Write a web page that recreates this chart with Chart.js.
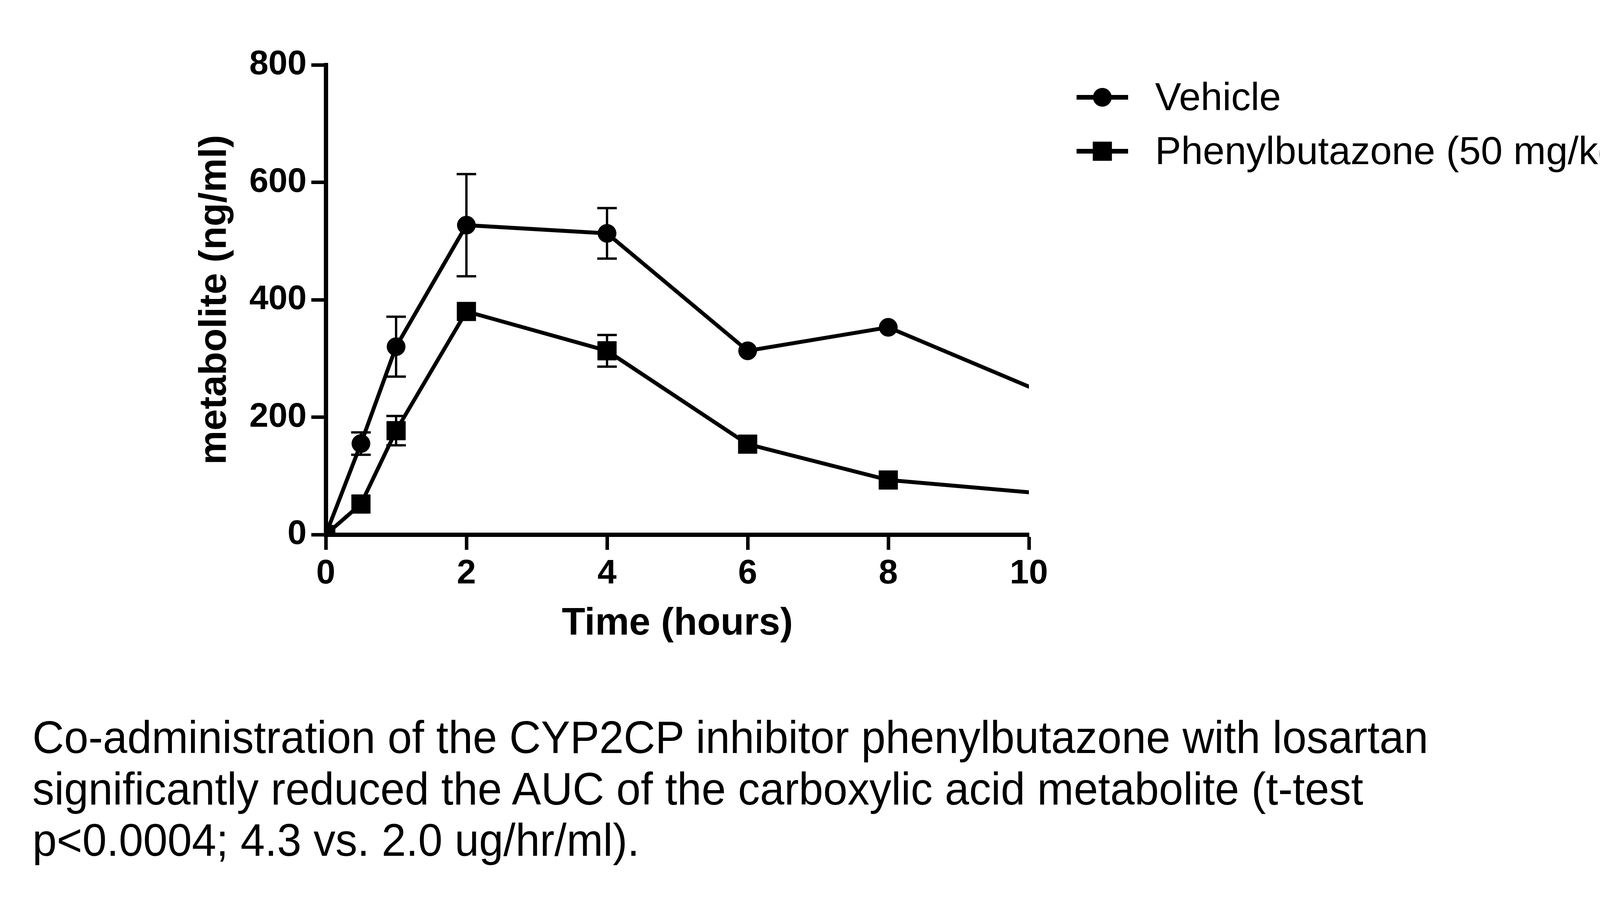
<!DOCTYPE html>
<html>
<head>
<meta charset="utf-8">
<script src="https://cdn.jsdelivr.net/npm/chart.js@4.4.1/dist/chart.umd.min.js"></script>
<style>
  html, body { margin: 0; padding: 0; background: #fff; }
  #wrap { position: relative; width: 4133px; height: 2298px; overflow: hidden; }
  #chart { position: absolute; left: 0; top: 0; }
  #caption {
    position: absolute; left: 83px; top: 1822px;
    font-family: 'Liberation Sans', Arial, sans-serif;
    font-size: 116px; line-height: 131.5px; color: #000;
    white-space: nowrap;
    transform: scaleX(0.966); transform-origin: 0 0;
  }
</style>
</head>
<body>
<div id="wrap">
  <canvas id="chart" width="4133" height="2298"></canvas>
  <div id="caption">Co-administration of the CYP2CP inhibitor phenylbutazone with losartan<br>significantly reduced the AUC of the carboxylic acid metabolite (t-test<br>p&lt;0.0004; 4.3 vs. 2.0 ug/hr/ml).</div>
</div>
<script>
// data (time in hours, metabolite in ng/ml, mean +/- error)
const times = [0, 0.5, 1, 2, 4, 6, 8, 10];
const vehicle = [0, 155, 320, 527, 513, 313, 353, 252];
const vehicleErr = [0, 19, 51, 87, 43, 10, 10, 0];
const phenyl = [0, 52, 177, 380, 313, 154, 93, 72];
const phenylErr = [0, 10, 25, 12, 27, 10, 8, 0];
const seriesNames = ['Vehicle', 'Phenylbutazone (50 mg/kg)'];
const xTicks = [0, 2, 4, 6, 8, 10];
const yTicks = [0, 200, 400, 600, 800];

const FONT = "'Liberation Sans', Arial, sans-serif";
const MARK = 24.5; // half size of the symbols, px

function pts(ys) {
    return times.map((t, i) => ({ x: t, y: ys[i] }));
}
// last point is only where the line is cut by the axis end: no marker
function radii(r) {
    return times.map((t, i) => (i === times.length - 1 ? 0 : r));
}

const errors = [vehicleErr, phenylErr];

// error bars, skipped when shorter than the symbol (as Prism does)
const errorBars = {
    id: 'errorBars',
    beforeDatasetsDraw(chart) {
        const { ctx, scales: { x, y } } = chart;
        ctx.save();
        ctx.strokeStyle = '#000';
        ctx.lineWidth = 6;
        chart.data.datasets.forEach((ds, di) => {
            ds.data.forEach((p, i) => {
                const e = errors[di][i];
                if (!e) return;
                const px = x.getPixelForValue(p.x);
                const cy = y.getPixelForValue(p.y);
                const top = y.getPixelForValue(p.y + e);
                const bot = y.getPixelForValue(p.y - e);
                if (cy - top <= MARK) return;
                ctx.beginPath();
                ctx.moveTo(px, top); ctx.lineTo(px, bot);
                ctx.moveTo(px - 25, top); ctx.lineTo(px + 25, top);
                ctx.moveTo(px - 25, bot); ctx.lineTo(px + 25, bot);
                ctx.stroke();
            });
        });
        ctx.restore();
    }
};

// legend like the original, to the right of the plot
const sideLegend = {
    id: 'sideLegend',
    afterDraw(chart) {
        const ctx = chart.ctx;
        const rows = [249, 387];
        ctx.save();
        ctx.fillStyle = '#000';
        ctx.strokeStyle = '#000';
        rows.forEach((cy, i) => {
            ctx.lineWidth = 12;
            ctx.beginPath();
            ctx.moveTo(2756, cy); ctx.lineTo(2888, cy);
            ctx.stroke();
            if (i === 0) {
                ctx.beginPath();
                ctx.arc(2822, cy, 24, 0, Math.PI * 2);
                ctx.fill();
            } else {
                ctx.fillRect(2822 - MARK, cy - MARK, MARK * 2, MARK * 2);
            }
            ctx.font = '100px ' + FONT;
            ctx.textBaseline = 'alphabetic';
            ctx.textAlign = 'left';
            ctx.fillText(seriesNames[i], 2957, cy + 33);
        });
        ctx.restore();
    }
};

new Chart(document.getElementById('chart'), {
    type: 'line',
    data: {
        datasets: [{
            label: seriesNames[0],
            data: pts(vehicle),
            borderColor: '#000',
            backgroundColor: '#000',
            borderWidth: 10,
            borderCapStyle: 'round',
            pointStyle: 'circle',
            pointRadius: radii(23.5),
            pointBorderWidth: 1,
            pointBackgroundColor: '#000',
            pointBorderColor: '#000',
            order: 1
        }, {
            label: seriesNames[1],
            data: pts(phenyl),
            borderColor: '#000',
            backgroundColor: '#000',
            borderWidth: 10,
            borderCapStyle: 'round',
            pointStyle: 'rect',
            pointRadius: radii(34),
            pointBorderWidth: 1,
            pointBackgroundColor: '#000',
            pointBorderColor: '#000',
            order: 0
        }]
    },
    options: {
        responsive: false,
        devicePixelRatio: 1,
        animation: false,
        layout: { padding: { left: 0, top: 166, right: 1499, bottom: 0 } },
        plugins: {
            legend: { display: false },
            tooltip: { enabled: false }
        },
        scales: {
            x: {
                type: 'linear',
                min: 0, max: 10,
                afterBuildTicks: s => { s.ticks = xTicks.map(v => ({ value: v })); },
                afterFit: s => { s.height = 930; },
                ticks: {
                    color: '#000', padding: 9, maxRotation: 0,
                    font: { family: FONT, size: 88, weight: 'bold' }
                },
                grid: {
                    drawOnChartArea: false, drawTicks: true,
                    tickLength: 39, tickWidth: 9, tickColor: '#000'
                },
                border: { display: true, width: 11, color: '#000' },
                title: {
                    display: true, text: 'Time (hours)', color: '#000',
                    font: { family: FONT, size: 98, weight: 'bold' },
                    padding: { top: 0, bottom: 642 }
                }
            },
            y: {
                type: 'linear',
                min: 0, max: 800,
                afterBuildTicks: s => { s.ticks = yTicks.map(v => ({ value: v })); },
                afterFit: s => { s.width = 834; },
                ticks: {
                    color: '#000', padding: 12,
                    font: { family: FONT, size: 88, weight: 'bold' }
                },
                grid: {
                    drawOnChartArea: false, drawTicks: true,
                    tickLength: 37, tickWidth: 9, tickColor: '#000'
                },
                border: { display: true, width: 11, color: '#000' },
                title: {
                    display: true, text: 'metabolite (ng/ml)', color: '#000',
                    font: { family: FONT, size: 98, weight: 'bold' },
                    padding: { top: 492, bottom: 0 }
                }
            }
        }
    },
    plugins: [errorBars, sideLegend]
});
</script>
</body>
</html>
